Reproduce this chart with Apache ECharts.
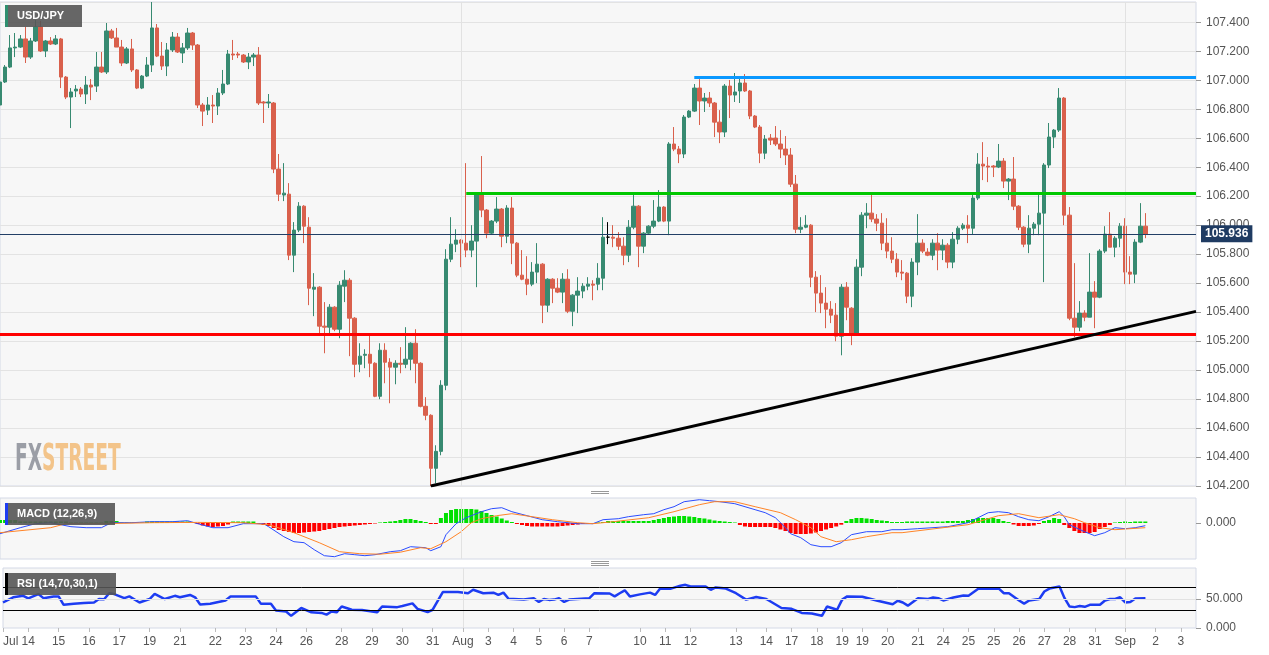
<!DOCTYPE html>
<html>
<head>
<meta charset="utf-8">
<title>USD/JPY 4H</title>
<script src="https://cdn.jsdelivr.net/npm/echarts@6/dist/echarts.min.js"></script>
<style>
  html, body { margin: 0; padding: 0; background: #fff; }
  #chart { width: 1269px; height: 655px; }
</style>
</head>
<body>
<div id="chart"></div>
<script>
// 4h candles: [open, close, low, high]
const candles = [
  [106.829, 106.988, 106.815, 107.002], [106.988, 107.091, 106.981, 107.105], [107.091, 107.223, 107.084, 107.312],
  [107.223, 107.229, 107.160, 107.326], [107.229, 107.285, 107.223, 107.312], [107.285, 107.160, 107.119, 107.368],
  [107.160, 107.271, 107.147, 107.292], [107.271, 107.368, 107.264, 107.416], [107.368, 107.202, 107.195, 107.409],
  [107.202, 107.271, 107.160, 107.278], [107.271, 107.250, 107.243, 107.298], [107.250, 107.285, 107.243, 107.312],
  [107.285, 107.022, 106.946, 107.292], [107.022, 106.884, 106.870, 107.029], [106.884, 106.919, 106.670, 106.946],
  [106.926, 106.939, 106.884, 106.967], [106.939, 106.905, 106.884, 106.953], [106.905, 106.967, 106.836, 107.029],
  [106.967, 106.953, 106.863, 107.008], [106.960, 107.091, 106.919, 107.195], [107.091, 107.057, 107.050, 107.195],
  [107.057, 107.340, 107.043, 107.395], [107.340, 107.292, 107.285, 107.354], [107.292, 107.229, 107.229, 107.361],
  [107.229, 107.119, 107.098, 107.278], [107.119, 107.216, 107.112, 107.229], [107.216, 107.071, 107.057, 107.285],
  [107.071, 106.946, 106.939, 107.077], [106.946, 107.029, 106.939, 107.036], [107.029, 107.105, 107.022, 107.160],
  [107.105, 107.361, 107.057, 107.540], [107.361, 107.167, 107.160, 107.388], [107.167, 107.098, 107.071, 107.264],
  [107.098, 107.209, 107.029, 107.257], [107.209, 107.298, 107.195, 107.333], [107.298, 107.195, 107.188, 107.326],
  [107.188, 107.223, 107.119, 107.257], [107.223, 107.326, 107.209, 107.361], [107.326, 107.243, 107.209, 107.333],
  [107.243, 106.829, 106.808, 107.250], [106.829, 106.787, 106.684, 106.843], [106.794, 106.829, 106.760, 106.884],
  [106.829, 106.822, 106.705, 106.898], [106.822, 106.912, 106.760, 106.946], [106.912, 106.974, 106.898, 107.071],
  [106.974, 107.181, 106.967, 107.209], [107.181, 107.174, 107.140, 107.278], [107.181, 107.174, 107.153, 107.195],
  [107.174, 107.126, 107.119, 107.181], [107.126, 107.160, 107.077, 107.188], [107.160, 107.174, 107.098, 107.188],
  [107.174, 106.843, 106.829, 107.229], [106.850, 106.843, 106.705, 106.857], [106.843, 106.850, 106.808, 106.905],
  [106.843, 106.387, 106.359, 106.850], [106.387, 106.214, 106.166, 106.491], [106.208, 106.221, 106.166, 106.428],
  [106.214, 105.793, 105.759, 106.290], [105.793, 105.966, 105.676, 106.021], [105.966, 106.131, 105.952, 106.159],
  [106.131, 105.993, 105.876, 106.138], [105.986, 105.565, 105.448, 106.055], [105.558, 105.572, 105.372, 105.669],
  [105.572, 105.303, 105.254, 105.579], [105.303, 105.296, 105.116, 105.469], [105.296, 105.434, 105.241, 105.455],
  [105.434, 105.282, 105.268, 105.441], [105.282, 105.586, 105.220, 105.614], [105.579, 105.620, 105.469, 105.689],
  [105.620, 105.358, 105.096, 105.634], [105.358, 105.040, 104.951, 105.365], [105.040, 105.096, 104.985, 105.185],
  [105.102, 105.109, 105.013, 105.144], [105.109, 105.047, 104.951, 105.241], [105.047, 104.819, 104.813, 105.054],
  [104.819, 105.137, 104.799, 105.185], [105.137, 105.054, 104.909, 105.185], [105.054, 105.020, 104.771, 105.082],
  [105.020, 105.047, 104.902, 105.068], [105.047, 105.040, 104.978, 105.158], [105.040, 105.075, 105.013, 105.296],
  [105.075, 105.185, 104.999, 105.192], [105.185, 105.047, 104.909, 105.282], [105.047, 104.750, 104.743, 105.054],
  [104.750, 104.688, 104.654, 104.813], [104.688, 104.322, 104.200, 104.695], [104.322, 104.439, 104.218, 104.481],
  [104.439, 104.895, 104.412, 104.930], [104.895, 105.765, 104.861, 105.834], [105.765, 105.869, 105.745, 106.055],
  [105.869, 105.897, 105.814, 105.972], [105.897, 105.876, 105.710, 105.903], [105.876, 105.828, 105.779, 106.428],
  [105.828, 105.890, 105.779, 106.000], [105.890, 106.221, 105.572, 106.228], [106.221, 106.104, 106.055, 106.477],
  [106.104, 105.945, 105.910, 106.111], [105.945, 106.028, 105.938, 106.035], [106.028, 106.111, 106.014, 106.194],
  [106.111, 105.924, 105.848, 106.118], [105.924, 106.118, 105.876, 106.138], [106.118, 105.876, 105.731, 106.194],
  [105.876, 105.655, 105.641, 105.883], [105.655, 105.627, 105.620, 105.828], [105.627, 105.593, 105.517, 105.786],
  [105.593, 105.676, 105.579, 105.745], [105.676, 105.731, 105.600, 105.876], [105.731, 105.448, 105.324, 105.738],
  [105.448, 105.627, 105.400, 105.634], [105.627, 105.565, 105.462, 105.634], [105.565, 105.538, 105.531, 105.634],
  [105.538, 105.627, 105.462, 105.669], [105.627, 105.406, 105.393, 105.696], [105.406, 105.517, 105.303, 105.524],
  [105.517, 105.545, 105.393, 105.641], [105.545, 105.579, 105.496, 105.600], [105.579, 105.593, 105.551, 105.641],
  [105.593, 105.586, 105.482, 105.620], [105.593, 105.634, 105.551, 105.738], [105.634, 105.917, 105.551, 106.055],
  [105.917, 105.917, 105.869, 106.021], [105.917, 105.910, 105.848, 106.000], [105.910, 105.855, 105.828, 105.952],
  [105.855, 105.793, 105.724, 105.917], [105.793, 105.986, 105.745, 106.035], [105.986, 106.131, 105.972, 106.208],
  [106.131, 105.855, 105.710, 106.138], [105.855, 105.945, 105.807, 105.952], [105.945, 105.993, 105.938, 106.000],
  [105.993, 106.028, 105.979, 106.173], [106.028, 106.125, 106.021, 106.242], [106.125, 106.028, 106.021, 106.131],
  [106.028, 106.560, 105.931, 106.573], [106.560, 106.525, 106.511, 106.677], [106.525, 106.491, 106.428, 106.546],
  [106.491, 106.746, 106.463, 106.760], [106.746, 106.787, 106.739, 106.794], [106.787, 106.946, 106.781, 106.974],
  [106.946, 106.857, 106.691, 107.008], [106.857, 106.877, 106.781, 106.912], [106.877, 106.843, 106.815, 106.919],
  [106.843, 106.711, 106.608, 106.850], [106.711, 106.643, 106.566, 106.794], [106.643, 106.960, 106.608, 106.974],
  [106.960, 106.898, 106.739, 107.002], [106.898, 106.919, 106.850, 107.050], [106.926, 106.981, 106.843, 107.022],
  [106.981, 106.926, 106.919, 107.043], [106.926, 106.753, 106.732, 106.933], [106.753, 106.677, 106.670, 106.760],
  [106.677, 106.497, 106.428, 106.691], [106.497, 106.594, 106.456, 106.622], [106.601, 106.587, 106.553, 106.629],
  [106.601, 106.560, 106.546, 106.684], [106.560, 106.525, 106.463, 106.656], [106.525, 106.484, 106.415, 106.615],
  [106.484, 106.283, 106.263, 106.532], [106.283, 105.972, 105.945, 106.346], [105.972, 105.986, 105.945, 106.055],
  [105.986, 106.000, 105.979, 106.069], [106.000, 105.641, 105.572, 106.007], [105.641, 105.531, 105.400, 105.683],
  [105.531, 105.462, 105.393, 105.655], [105.462, 105.420, 105.289, 105.572], [105.420, 105.379, 105.324, 105.476],
  [105.379, 105.234, 105.199, 105.462], [105.234, 105.572, 105.102, 105.593], [105.572, 105.434, 105.344, 105.607],
  [105.427, 105.254, 105.172, 105.434], [105.254, 105.710, 105.241, 105.765], [105.710, 106.069, 105.648, 106.090],
  [106.069, 106.083, 105.979, 106.152], [106.083, 106.042, 106.021, 106.208], [106.042, 106.014, 105.959, 106.076],
  [106.014, 105.876, 105.828, 106.083], [105.876, 105.821, 105.772, 106.048], [105.821, 105.765, 105.738, 105.917],
  [105.765, 105.676, 105.641, 105.807], [105.676, 105.669, 105.620, 105.759], [105.669, 105.510, 105.462, 105.676],
  [105.510, 105.745, 105.434, 105.772], [105.745, 105.876, 105.655, 106.076], [105.876, 105.821, 105.807, 105.903],
  [105.814, 105.793, 105.786, 105.841], [105.793, 105.876, 105.759, 105.903], [105.876, 105.828, 105.689, 105.945],
  [105.828, 105.862, 105.759, 105.903], [105.862, 105.745, 105.703, 105.876], [105.745, 105.903, 105.703, 105.952],
  [105.903, 105.979, 105.869, 105.993], [105.979, 106.000, 105.966, 106.014], [106.000, 105.979, 105.876, 106.069],
  [105.979, 106.187, 105.938, 106.208], [106.187, 106.421, 106.173, 106.497], [106.421, 106.408, 106.311, 106.573],
  [106.408, 106.401, 106.297, 106.470], [106.408, 106.401, 106.332, 106.415], [106.401, 106.442, 106.394, 106.560],
  [106.442, 106.304, 106.256, 106.463], [106.304, 106.318, 106.173, 106.325], [106.318, 106.131, 106.104, 106.470],
  [106.131, 105.986, 105.966, 106.138], [105.986, 105.869, 105.848, 105.993], [105.869, 105.979, 105.807, 106.069],
  [105.979, 106.007, 105.931, 106.021], [106.007, 106.083, 105.931, 106.208], [106.083, 106.415, 105.607, 106.428],
  [106.415, 106.608, 106.394, 106.705], [106.608, 106.656, 106.532, 106.663], [106.656, 106.877, 106.643, 106.946],
  [106.877, 106.069, 106.000, 106.884], [106.069, 105.358, 105.344, 106.125], [105.358, 105.296, 105.227, 105.738],
  [105.296, 105.393, 105.268, 105.476], [105.393, 105.365, 105.337, 105.413], [105.365, 105.538, 105.365, 105.807],
  [105.538, 105.503, 105.289, 105.614], [105.503, 105.821, 105.496, 105.834], [105.821, 105.938, 105.807, 105.993],
  [105.938, 105.848, 105.848, 106.090], [105.848, 105.910, 105.779, 105.924], [105.910, 105.993, 105.848, 106.014],
  [105.993, 105.676, 105.593, 106.048], [105.676, 105.662, 105.593, 105.786], [105.662, 105.883, 105.600, 105.903],
  [105.883, 105.993, 105.876, 106.152], [105.993, 105.936, 105.910, 106.083]
]

// MACD (12,26,9): [candle index, value]
const macdLine = [
  [0, -0.107], [4, -0.047], [7, -0.007], [10, 0.003], [14, -0.037], [17, -0.047], [20, -0.047], [22, 0.003],
  [26, 0.003], [30, 0.013], [34, 0.013], [37, 0.023], [39, -0.007], [42, -0.047], [45, -0.047], [48, -0.007],
  [52, -0.007], [53, -0.037], [56, -0.137], [58, -0.187], [60, -0.197], [62, -0.267], [64, -0.327], [66, -0.337],
  [68, -0.307], [70, -0.317], [72, -0.327], [74, -0.317], [77, -0.287], [79, -0.277], [81, -0.237], [84, -0.247],
  [85, -0.277], [87, -0.237], [88, -0.117], [90, -0.007], [92, 0.053], [95, 0.113], [97, 0.143], [99, 0.153],
  [101, 0.113], [104, 0.073], [107, 0.033], [110, 0.013], [114, -0.007], [117, -0.007], [119, 0.033], [122, 0.043],
  [124, 0.063], [127, 0.083], [129, 0.093], [131, 0.133], [133, 0.163], [135, 0.213], [138, 0.233], [140, 0.223],
  [142, 0.213], [145, 0.193], [149, 0.133], [151, 0.103], [153, 0.053], [155, -0.047], [156, -0.107], [158, -0.147],
  [160, -0.217], [162, -0.237], [164, -0.237], [166, -0.197], [168, -0.117], [171, -0.087], [174, -0.087], [176, -0.067],
  [178, -0.067], [181, -0.057], [187, -0.037], [191, 0.003], [193, 0.053], [195, 0.103], [197, 0.113], [199, 0.103],
  [201, 0.063], [203, 0.033], [205, 0.023], [207, 0.063], [209, 0.113], [210, 0.063], [211, -0.017], [214, -0.087],
  [216, -0.127], [218, -0.097], [220, -0.047], [222, -0.057], [224, -0.047], [226, -0.027]
]
const signalLine = [
  [0, -0.097], [10, -0.047], [13, -0.007], [20, -0.007], [30, 0.003], [39, 0.006], [48, 0.003], [53, -0.017],
  [58, -0.097], [63, -0.197], [67, -0.287], [71, -0.307], [75, -0.312], [79, -0.292], [83, -0.247], [85, -0.257],
  [88, -0.187], [91, -0.087], [93, 0.003], [95, 0.043], [98, 0.073], [101, 0.093], [105, 0.063], [109, 0.033],
  [114, 0.003], [117, -0.007], [121, 0.013], [128, 0.053], [133, 0.113], [138, 0.183], [141, 0.213], [145, 0.213],
  [149, 0.163], [154, 0.103], [157, 0.033], [160, -0.047], [162, -0.137], [165, -0.187], [168, -0.167], [171, -0.137],
  [176, -0.097], [178, -0.097], [191, -0.017], [197, 0.073], [201, 0.093], [205, 0.053], [209, 0.083], [212, 0.043],
  [214, 0.003], [217, -0.047], [220, -0.067], [226, -0.047]
]
// histogram, one bar per candle
const macdHist = [
  0.03, 0.03, 0.03, 0.03, 0.015, 0.015, 0.015, 0.015, 0.015, 0.015,
  0.015, 0.015, 0.015, 0.015, 0.005, 0.005, 0.005, 0.005, 0.005, 0.005,
  0.005, 0.02, 0.02, 0.02, 0.005, 0.005, 0.005, 0.005, 0.005, 0.015,
  0.015, 0.015, 0.015, 0.015, 0.015, 0.015, 0.015, 0.015, 0, -0.01,
  -0.025, -0.035, -0.04, -0.035, -0.03, -0.015, 0.015, 0.015, 0.015, 0.015,
  0.015, -0.01, -0.02, -0.03, -0.05, -0.07, -0.08, -0.09, -0.10, -0.10,
  -0.095, -0.09, -0.085, -0.08, -0.07, -0.06, -0.05, -0.04, -0.035, -0.03,
  -0.025, -0.02, -0.015, -0.01, -0.005, 0.005, 0.01, 0.015, 0.02, 0.03,
  0.04, 0.04, 0.03, 0.02, 0.01, -0.01, -0.01, 0.05, 0.10, 0.13,
  0.14, 0.14, 0.14, 0.14, 0.135, 0.12, 0.10, 0.08, 0.065, 0.045,
  0.025, 0.01, -0.01, -0.02, -0.03, -0.035, -0.035, -0.035, -0.035, -0.035,
  -0.035, -0.03, -0.025, -0.02, -0.015, -0.01, -0.005, -0.003, 0.005, 0.01,
  0.02, 0.02, 0.02, 0.02, 0.02, 0.02, 0.02, 0.02, 0.02, 0.03,
  0.04, 0.05, 0.06, 0.065, 0.07, 0.07, 0.065, 0.06, 0.05, 0.045,
  0.035, 0.025, 0.02, 0.015, 0.01, 0.005, -0.02, -0.035, -0.04, -0.04,
  -0.04, -0.04, -0.04, -0.05, -0.065, -0.08, -0.10, -0.11, -0.11, -0.11,
  -0.105, -0.095, -0.08, -0.065, -0.05, -0.035, -0.017, 0.02, 0.04, 0.05,
  0.05, 0.045, 0.04, 0.03, 0.025, 0.02, 0.01, 0.01, 0.01, 0.015,
  0.015, 0.015, 0.015, 0.015, 0.015, 0.015, 0.015, 0.02, 0.02, 0.02,
  0.02, 0.03, 0.04, 0.05, 0.05, 0.05, 0.05, 0.04, 0.02, 0.01,
  -0.015, -0.03, -0.03, -0.03, -0.025, -0.01, 0.02, 0.03, 0.05, 0.04,
  -0.02, -0.05, -0.08, -0.10, -0.10, -0.10, -0.09, -0.06, -0.04, -0.02,
  0.005, 0.01, 0.015, 0.01, 0.015, 0.015, 0.015
]

// RSI (14): [candle index, value]
const rsiLine = [
  [0, 44], [2, 53], [4, 55.5], [5, 51], [7, 58.5], [8, 51.5], [10, 54.5], [11, 54.5], [12, 40], [14, 42],
  [16, 43], [18, 44], [19, 50], [20, 49.5], [21, 60], [22, 58.5], [24, 51.5], [25, 54.5], [27, 44], [29, 50],
  [30, 59], [32, 50], [34, 55.5], [35, 53], [37, 57], [38, 53], [39, 40.5], [41, 42], [44, 47.5], [45, 54.5],
  [47, 54.5], [50, 54.5], [51, 42], [53, 42], [54, 30], [56, 28.5], [57, 21], [59, 34.5], [61, 27], [63, 26],
  [64, 23], [65, 28.5], [66, 27], [67, 37], [69, 31.5], [71, 31], [74, 27], [75, 37], [78, 36], [79, 38],
  [81, 42.5], [82, 33], [84, 27.5], [85, 31.5], [87, 62], [90, 62], [92, 60], [93, 66], [95, 60], [97, 61],
  [98, 57], [99, 61], [100, 50.5], [103, 49], [105, 51.5], [106, 45], [107, 50], [108, 48.5], [109, 49], [110, 51.5],
  [111, 45], [112, 49], [116, 51.5], [117, 60], [120, 59.5], [121, 54.5], [122, 60], [123, 65], [124, 54.5], [126, 58],
  [128, 61], [129, 57], [130, 68], [132, 67.5], [134, 73], [135, 74.5], [136, 71.5], [139, 71.5], [140, 66], [141, 70],
  [143, 68], [145, 60], [147, 49], [149, 53.5], [151, 50], [154, 34.5], [156, 33], [158, 26], [160, 25], [162, 21],
  [163, 37], [165, 31.5], [166, 49], [167, 54.5], [170, 54], [173, 47], [176, 41], [177, 47], [178, 44], [179, 38.5],
  [181, 51.5], [183, 50], [184, 52.5], [185, 51.5], [186, 47.5], [188, 52.5], [190, 56], [191, 55.5], [193, 68], [195, 67.5],
  [197, 68], [198, 60], [199, 60], [201, 47.5], [202, 42], [203, 47.5], [205, 50], [206, 63], [207, 68], [209, 71.5],
  [210, 51.5], [211, 37], [212, 36], [213, 38], [214, 36.5], [215, 40], [217, 40], [218, 47.5], [219, 50], [220, 50],
  [221, 53], [222, 44], [223, 45], [224, 51], [226, 51.5]
]

// date labels on the time axis
const labelAt = [0, 5, 11, 17, 23, 29, 35, 42, 48, 54, 60, 67, 73, 79, 85, 91, 96, 101, 106, 111, 116,
  126, 131, 136, 145, 151, 156, 161, 166, 170, 175, 181, 186, 191, 196, 201, 206, 211, 216, 222, 228, 233]
const labelText = ['Jul', '14', '15', '16', '17', '19', '21', '22', '23', '24', '26', '28', '29', '30', '31', 'Aug', '3', '4', '5', '6', '7',
  '10', '11', '12', '13', '14', '17', '18', '19', '19', '20', '21', '24', '25', '25', '26', '27', '28', '31', 'Sep', '2', '3']
const monthStarts = [91, 222]

const slotCount = 237 // candles plus empty space on the right
const lastPrice = 105.936
const resistanceTop = 107.02
const resistanceMid = 106.22
const supportLevel = 105.25
const trendLine = [[85, 104.2], [236, 105.405]]

const slots = Array.from({ length: slotCount }, (_, i) => 's' + i)
const labelMap = {}
labelAt.forEach((idx, k) => { labelMap[idx] = labelText[k] })

const GREEN = '#378a71'
const RED = '#d9604c'
const panelBg = '#f7f7f7'
const panelBorder = '#d4d9e6'
const axisFont = { color: '#555', fontSize: 12, fontFamily: 'Liberation Sans, Arial, sans-serif' }
const titleFont = 'bold 11px "Liberation Sans", Arial'

const chart = echarts.init(document.getElementById('chart'), null, { renderer: 'canvas' })

const candleData = candles.map(c => c[0] === c[1]
  ? { value: c, itemStyle: { color: '#000', color0: '#000', borderColor: '#000', borderColor0: '#000' } }
  : c)

function isTick(v) {
  return Math.abs(v * 5 - Math.round(v * 5)) < 1e-6
}

function baseX(gridIndex) {
  return {
    type: 'category',
    gridIndex: gridIndex,
    data: slots,
    boundaryGap: false,
    axisLine: { show: false },
    axisTick: { show: false },
    axisLabel: { show: false },
    splitLine: { show: false }
  }
}

const monthLines = monthStarts.map(m => ({ xAxis: m, lineStyle: { color: '#e2e2e2', width: 1, type: 'solid' } }))

const xBottom = baseX(2)
xBottom.axisTick = {
  show: true,
  length: 4,
  interval: i => labelMap[i] !== undefined,
  lineStyle: { color: '#bbb' }
}
xBottom.axisLabel = Object.assign({
  show: true,
  margin: 8,
  alignMinLabel: 'left',
  interval: i => labelMap[i] !== undefined,
  formatter: (v, i) => labelMap[i] || ''
}, axisFont)

const option = {
  animation: false,
  backgroundColor: '#fff',
  grid: [
    { left: 0, width: 1196, top: 2, height: 484, show: true, backgroundColor: panelBg, borderColor: panelBorder },
    { left: 0, width: 1196, top: 498, height: 61, show: true, backgroundColor: panelBg, borderColor: panelBorder },
    { left: 0, width: 1196, top: 568, height: 60, show: true, backgroundColor: panelBg, borderColor: panelBorder }
  ],
  xAxis: [baseX(0), baseX(1), xBottom],
  yAxis: [
    {
      type: 'value', gridIndex: 0, position: 'right',
      min: 104.2, max: 107.54, interval: 0.2,
      axisLine: { show: false },
      axisTick: { show: true, length: 5, lineStyle: { color: '#999' } },
      axisLabel: Object.assign({ margin: 10, showMaxLabel: false, formatter: v => isTick(v) ? v.toFixed(3) : '' }, axisFont),
      splitLine: { lineStyle: { color: '#e3e3e3' } }
    },
    {
      type: 'value', gridIndex: 1, position: 'right',
      min: -0.36, max: 0.25, interval: 0.36,
      axisLine: { show: false },
      axisTick: { show: true, length: 5, customValues: [0], lineStyle: { color: '#999' } },
      axisLabel: Object.assign({ margin: 10, customValues: [0], formatter: v => Math.abs(v) < 1e-9 ? '0.000' : '' }, axisFont),
      splitLine: { show: false }
    },
    {
      type: 'value', gridIndex: 2, position: 'right',
      min: 0, max: 103.5, interval: 50,
      axisLine: { show: false },
      axisTick: { show: true, length: 5, customValues: [0, 50], lineStyle: { color: '#999' } },
      axisLabel: Object.assign({ margin: 10, customValues: [0, 50], formatter: v => (v === 0 || v === 50) ? v.toFixed(3) : '' }, axisFont),
      splitLine: { show: false }
    }
  ],
  series: [
    {
      name: 'USD/JPY',
      type: 'candlestick',
      xAxisIndex: 0, yAxisIndex: 0,
      data: candleData,
      barWidth: 4,
      itemStyle: { color: GREEN, color0: RED, borderColor: GREEN, borderColor0: RED, borderWidth: 1 },
      markLine: {
        silent: true,
        symbol: ['none', 'none'],
        label: { show: false },
        data: monthLines.concat([
          [{ coord: [137, resistanceTop] }, { coord: [slotCount - 1, resistanceTop], lineStyle: { color: '#0a98ff', width: 3, type: 'solid' } }],
          [{ coord: [92, resistanceMid] }, { coord: [slotCount - 1, resistanceMid], lineStyle: { color: '#00c800', width: 3, type: 'solid' } }],
          [{ coord: [0, supportLevel] }, { coord: [slotCount - 1, supportLevel], lineStyle: { color: '#ff0000', width: 3, type: 'solid' } }],
          {
            yAxis: lastPrice,
            lineStyle: { color: '#223f66', width: 1, type: 'solid' },
            label: {
              show: true, position: 'end', distance: 5,
              formatter: () => lastPrice.toFixed(3),
              backgroundColor: '#1f3b62', color: '#fff', fontWeight: 'bold',
              fontSize: 12, fontFamily: 'Liberation Sans, Arial, sans-serif', padding: [3, 4, 2, 4]
            }
          }
        ])
      }
    },
    {
      name: 'trend',
      type: 'line',
      xAxisIndex: 0, yAxisIndex: 0,
      data: trendLine,
      symbol: 'none',
      z: 5,
      lineStyle: { color: '#000', width: 3 }
    },
    {
      name: 'hist',
      type: 'bar',
      xAxisIndex: 1, yAxisIndex: 1,
      data: macdHist,
      barWidth: 4,
      itemStyle: { color: p => p.value >= 0 ? '#00e000' : '#ff0000' },
      markLine: { silent: true, symbol: ['none', 'none'], label: { show: false }, data: monthLines }
    },
    {
      name: 'MACD',
      type: 'line',
      xAxisIndex: 1, yAxisIndex: 1,
      data: macdLine,
      symbol: 'none',
      lineStyle: { color: '#2b4cff', width: 1 }
    },
    {
      name: 'Signal',
      type: 'line',
      xAxisIndex: 1, yAxisIndex: 1,
      data: signalLine,
      symbol: 'none',
      lineStyle: { color: '#ff8427', width: 1 }
    },
    {
      name: 'RSI',
      type: 'line',
      xAxisIndex: 2, yAxisIndex: 2,
      data: rsiLine,
      symbol: 'none',
      z: 4,
      lineStyle: { color: '#1d3cf2', width: 2.5 },
      markLine: {
        silent: true,
        symbol: ['none', 'none'],
        label: { show: false },
        data: monthLines.concat([
          { yAxis: 50, lineStyle: { color: '#e2e2e2', width: 1, type: 'solid' } },
          { yAxis: 70, lineStyle: { color: '#000', width: 1, type: 'solid' } },
          { yAxis: 30, lineStyle: { color: '#000', width: 1, type: 'solid' } }
        ])
      }
    }
  ],
  graphic: [
    // panel titles
    { type: 'rect', shape: { x: 5, y: 5, width: 77, height: 22 }, style: { fill: 'rgba(85,85,85,0.9)' }, z: 100 },
    { type: 'rect', shape: { x: 5, y: 5, width: 3, height: 22 }, style: { fill: '#2f8f6f' }, z: 101 },
    { type: 'text', x: 17, y: 16, z: 101, style: { text: 'USD/JPY', fill: '#fff', font: titleFont, verticalAlign: 'middle' } },
    { type: 'rect', shape: { x: 5, y: 503, width: 110, height: 22 }, style: { fill: 'rgba(85,85,85,0.9)' }, z: 100 },
    { type: 'rect', shape: { x: 5, y: 503, width: 3, height: 22 }, style: { fill: '#1d3cf2' }, z: 101 },
    { type: 'text', x: 17, y: 514, z: 101, style: { text: 'MACD (12,26,9)', fill: '#fff', font: titleFont, verticalAlign: 'middle' } },
    { type: 'rect', shape: { x: 5, y: 573, width: 111, height: 22 }, style: { fill: 'rgba(85,85,85,0.9)' }, z: 100 },
    { type: 'rect', shape: { x: 5, y: 573, width: 3, height: 22 }, style: { fill: '#000' }, z: 101 },
    { type: 'text', x: 17, y: 584, z: 101, style: { text: 'RSI (14,70,30,1)', fill: '#fff', font: titleFont, verticalAlign: 'middle' } },
    // watermark
    {
      type: 'text', x: 15, y: 442, scaleX: 0.56, z: 1,
      style: {
        text: '{a|FX}{b|STREET}',
        font: 'bold 37px "DejaVu Sans Condensed", "DejaVu Sans"',
        verticalAlign: 'top',
        rich: {
          a: { fill: '#9b9ea6', fontSize: 37, fontWeight: 'bold', fontFamily: 'DejaVu Sans Condensed' },
          b: { fill: '#f3c48a', fontSize: 37, fontWeight: 'bold', fontFamily: 'DejaVu Sans Condensed' }
        }
      }
    },
    // pane resize handles
    { type: 'rect', shape: { x: 591, y: 491, width: 18, height: 1 }, style: { fill: '#999' } },
    { type: 'rect', shape: { x: 591, y: 493, width: 18, height: 1 }, style: { fill: '#999' } },
    { type: 'rect', shape: { x: 591, y: 561, width: 18, height: 1 }, style: { fill: '#999' } },
    { type: 'rect', shape: { x: 591, y: 563, width: 18, height: 1 }, style: { fill: '#999' } },
    { type: 'rect', shape: { x: 591, y: 565, width: 18, height: 1 }, style: { fill: '#999' } }
  ]
}

chart.setOption(option)
</script>
</body>
</html>
